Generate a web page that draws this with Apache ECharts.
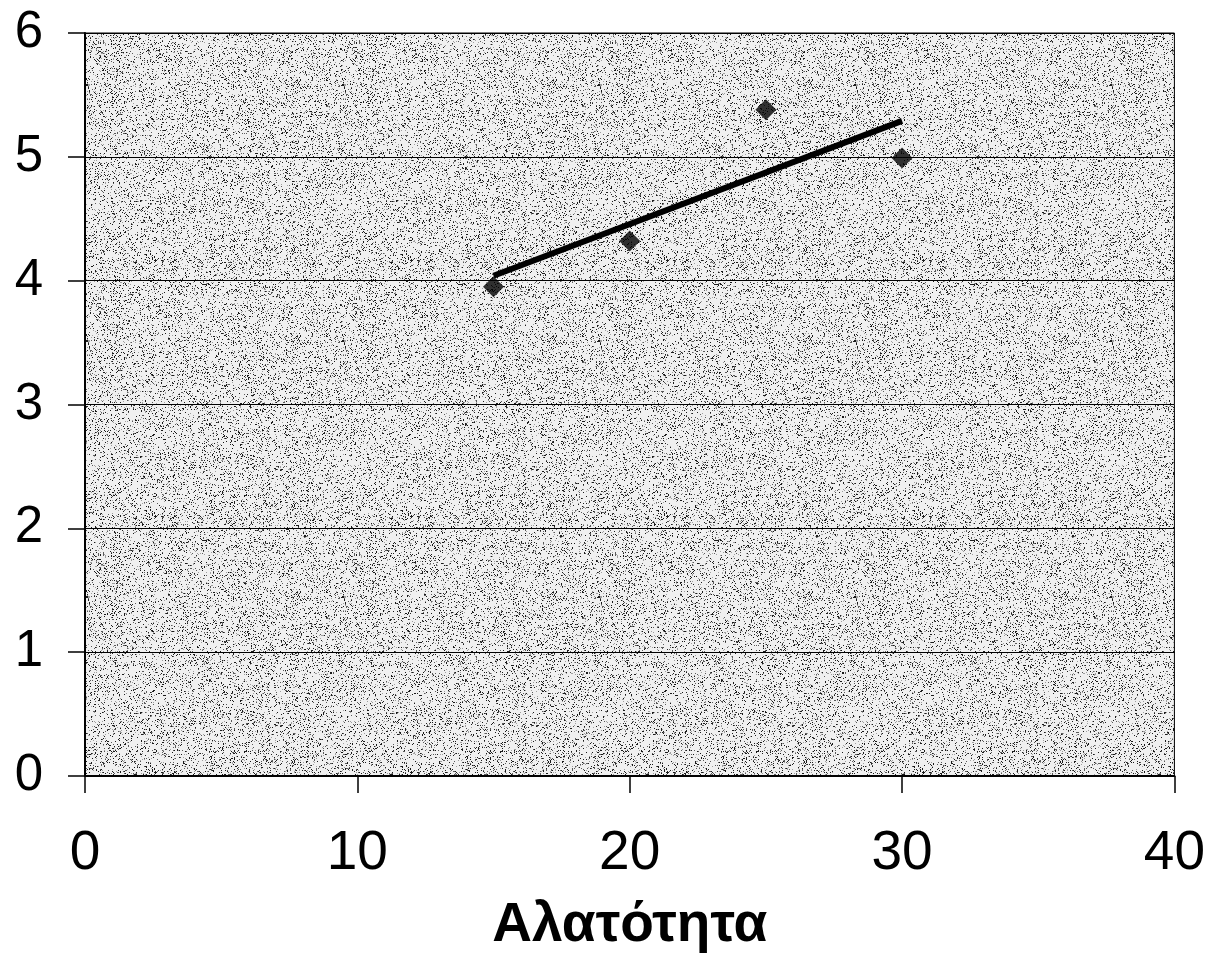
<!DOCTYPE html>
<html>
<head>
<meta charset="utf-8">
<script src="https://cdn.jsdelivr.net/npm/echarts@6/dist/echarts.min.js"></script>
<style>
html,body{margin:0;padding:0;background:#fff;}
#chart{width:1208px;height:976px;}
</style>
</head>
<body>
<div id="chart"></div>
<script>
// Data
const salinity = [15, 20, 25, 30];
const values = [3.95, 4.32, 5.38, 4.99];
const trendX = [15, 30];
const trendY = [4.04, 5.29];
const xTicks = [0, 10, 20, 30, 40];
const yTicks = [0, 1, 2, 3, 4, 5, 6];
const xTitle = 'Αλατότητα';

// deterministic speckle texture for the plot background (scanned look)
function makeTexture() {
  const c = document.createElement('canvas');
  c.width = 256; c.height = 256;
  const g = c.getContext('2d');
  g.fillStyle = '#f0f0f0';
  g.fillRect(0, 0, 256, 256);
  let s = 987654;
  function rnd() { s = (s * 1103515245 + 12345) & 0x7fffffff; return s / 0x7fffffff; }
  for (let i = 0; i < 24000; i++) {
    const x = Math.floor(rnd() * 256), y = Math.floor(rnd() * 256);
    const v = rnd();
    g.fillStyle = v < 0.45 ? '#1a1a1a' : (v < 0.75 ? '#5a5a5a' : '#a0a0a0');
    g.fillRect(x, y, 1, 1);
  }
  return c;
}

const chart = echarts.init(document.getElementById('chart'), null, {renderer: 'canvas'});
const font = '"Liberation Sans", Arial, sans-serif';
chart.setOption({
  animation: false,
  backgroundColor: '#ffffff',
  grid: {
    left: 85, right: 33, top: 33, bottom: 200,
    show: true,
    backgroundColor: {image: makeTexture(), repeat: 'repeat'},
    borderColor: '#000', borderWidth: 1
  },
  xAxis: {
    type: 'value', min: xTicks[0], max: xTicks[xTicks.length - 1], interval: 10,
    axisLine: {show: true, onZero: false, lineStyle: {color: '#000', width: 2}},
    axisTick: {show: true, inside: false, length: 17, lineStyle: {color: '#000', width: 1.5}},
    splitLine: {show: false},
    axisLabel: {fontSize: 55, color: '#000', fontFamily: font, margin: 50},
    name: xTitle, nameLocation: 'middle', nameGap: 122,
    nameTextStyle: {fontSize: 55, fontWeight: 'bold', color: '#000', fontFamily: font}
  },
  yAxis: {
    type: 'value', min: yTicks[0], max: yTicks[yTicks.length - 1], interval: 1,
    axisLine: {show: true, onZero: false, lineStyle: {color: '#000', width: 2}},
    axisTick: {show: true, inside: false, length: 17, lineStyle: {color: '#000', width: 1.5}},
    splitLine: {show: true, lineStyle: {color: '#000', width: 1}},
    axisLabel: {fontSize: 51, color: '#000', fontFamily: font, margin: 42}
  },
  series: [
    {
      type: 'line',
      data: trendX.map((x, i) => [x, trendY[i]]),
      showSymbol: false, symbol: 'none',
      lineStyle: {color: '#000', width: 6},
      z: 3
    },
    {
      type: 'scatter',
      data: salinity.map((x, i) => [x, values[i]]),
      symbol: 'diamond', symbolSize: 21,
      itemStyle: {color: '#000'},
      z: 4
    }
  ]
});
</script>
</body>
</html>
